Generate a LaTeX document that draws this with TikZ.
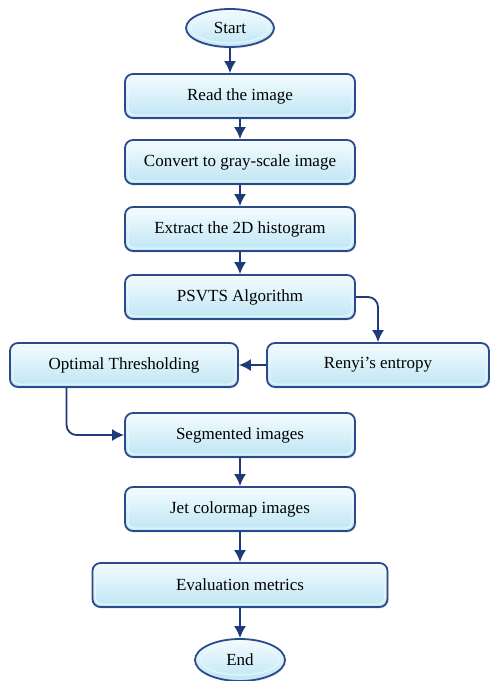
\documentclass[tikz,border=0pt]{standalone}
\usepackage{fontspec}
\setmainfont{Liberation Serif}
\usepackage{xcolor}
\usetikzlibrary{calc,shapes.geometric,arrows.meta,shadows}
\definecolor{boxline}{HTML}{2B4A8B}
\definecolor{boxtop}{HTML}{F4FCFF}
\definecolor{boxbottom}{HTML}{BEE5F4}
\definecolor{arrowcolor}{HTML}{1F3A78}
\colorlet{insetcolor}{white!70!boxbottom}
\tikzstyle{stepbox} = [
    draw=boxline,
    line width=1.8pt,
    rectangle,
    rounded corners=8pt,
    top color=boxtop,
    bottom color=boxbottom,
    minimum width=230pt,
    minimum height=44pt,
    inner sep=0pt,
    font=\fontsize{17}{20}\selectfont,
    drop shadow={opacity=0.2, shadow xshift=1pt, shadow yshift=-1.5pt},
    path picture={
        \draw[insetcolor, line width=1pt, rounded corners=6pt]
            ([shift={(3pt,-3pt)}]path picture bounding box.north west)
            rectangle ([shift={(-3pt,3pt)}]path picture bounding box.south east);
    }
    ]
\tikzstyle{termbox} = [
    stepbox,
    ellipse,
    minimum width=88pt,
    minimum height=38pt,
    path picture={
        \draw[insetcolor, line width=1pt]
            (path picture bounding box.center) ellipse [x radius=39pt, y radius=15pt];
    }
    ]
\tikzstyle{flowarrow} = [
    draw=arrowcolor,
    line width=1.8pt,
    -{Latex[length=12pt,width=12pt]}
    ]

\begin{document}
\begin{tikzpicture}[x=1pt,y=-1pt]
\useasboundingbox (0,0) rectangle (490,681);

% main column
\node[termbox] (start) at (230,28) {Start};
\node[stepbox] (read) at (240,96) {Read the image};
\node[stepbox] (convert) at (240,162) {Convert to gray-scale image};
\node[stepbox] (extract) at (240,229) {Extract the 2D histogram};
\node[stepbox] (psvts) at (240,297) {PSVTS Algorithm};
\node[stepbox, minimum width=228pt] (optimal) at (124,365) {Optimal Thresholding};
\node[stepbox, minimum width=222pt] (renyi) at (378,365) {Renyi’s entropy};
\node[stepbox] (segmented) at (240,435) {Segmented images};
\node[stepbox] (jet) at (240,509) {Jet colormap images};
\node[stepbox, minimum width=295pt] (eval) at (240,585) {Evaluation metrics};
\node[termbox, minimum width=90pt, minimum height=42pt] (end) at (240,660) {End};

% connectors
\draw[flowarrow] (start) -- (start |- read.north);
\draw[flowarrow] (read) -- (convert);
\draw[flowarrow] (convert) -- (extract);
\draw[flowarrow] (extract) -- (psvts);
\draw[flowarrow, rounded corners=10pt] (psvts.east) -| (renyi.north);
\draw[flowarrow] (renyi) -- (optimal);
\draw[flowarrow, rounded corners=10pt]
    ($(optimal.south west)!0.25!(optimal.south east)$) |- (segmented.west);
\draw[flowarrow] (segmented) -- (jet);
\draw[flowarrow] (jet) -- (eval);
\draw[flowarrow] (eval) -- (end);
\end{tikzpicture}
\end{document}
